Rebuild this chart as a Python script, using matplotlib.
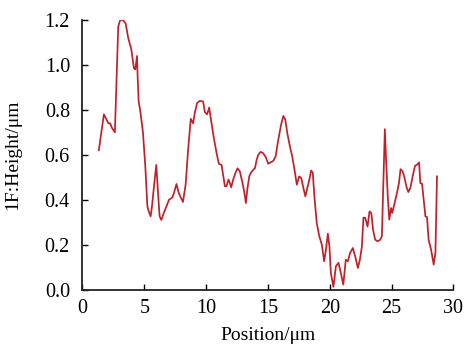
import matplotlib
matplotlib.use("Agg")
import matplotlib.pyplot as plt

# profile
position = [1.32, 1.73, 1.92, 2.10, 2.24, 2.38, 2.62, 2.89, 3.05, 3.27, 3.49, 3.70,
            3.95, 4.16, 4.27, 4.41, 4.46, 4.54, 4.70, 4.89, 5.08, 5.25, 5.35, 5.51,
            5.62, 5.84, 5.97, 6.11, 6.24, 6.38, 6.57, 6.79, 7.00, 7.27, 7.40, 7.60,
            7.79, 7.95, 8.13, 8.35, 8.54, 8.76, 8.95, 9.08, 9.27, 9.49, 9.76, 9.90,
            10.08, 10.25, 10.44, 10.65, 10.84, 11.03, 11.25, 11.38, 11.52, 11.65,
            11.81, 11.92, 12.03, 12.19, 12.38, 12.55, 12.73, 12.92, 13.08, 13.22,
            13.33, 13.49, 13.62, 13.81, 13.95, 14.09, 14.22, 14.41, 14.62, 14.84,
            15.03, 15.22, 15.43, 15.62, 15.84, 16.06, 16.25, 16.41, 16.57, 16.78,
            16.97, 17.13, 17.34, 17.53, 17.70, 17.87, 18.03, 18.19, 18.35, 18.49,
            18.63, 18.76, 18.95, 19.16, 19.36, 19.55, 19.71, 19.85, 19.98, 20.09,
            20.30, 20.50, 20.71, 20.90, 21.10, 21.30, 21.47, 21.65, 21.87, 22.06,
            22.28, 22.44, 22.60, 22.73, 22.87, 23.06, 23.22, 23.37, 23.50, 23.68,
            23.87, 24.09, 24.22, 24.35, 24.46, 24.57, 24.71, 24.82, 24.96, 25.06,
            25.22, 25.44, 25.60, 25.73, 25.90, 26.06, 26.20, 26.36, 26.52, 26.71,
            26.90, 27.07, 27.23, 27.33, 27.47, 27.60, 27.74, 27.87, 28.00, 28.20,
            28.41, 28.55, 28.68]
height = [0.62, 0.78, 0.76, 0.74, 0.74, 0.72, 0.70, 1.17, 1.20, 1.20, 1.185, 1.12,
          1.07, 0.985, 0.98, 1.04, 0.95, 0.84, 0.785, 0.70, 0.55, 0.37, 0.35, 0.326,
          0.37, 0.49, 0.555, 0.43, 0.326, 0.31, 0.34, 0.37, 0.40, 0.41, 0.43, 0.47,
          0.43, 0.41, 0.39, 0.47, 0.62, 0.76, 0.74, 0.785, 0.83, 0.84, 0.837, 0.79,
          0.78, 0.81, 0.74, 0.667, 0.61, 0.56, 0.555, 0.51, 0.46, 0.46,
          0.49, 0.475, 0.455, 0.49, 0.52, 0.54, 0.526, 0.48, 0.437, 0.385,
          0.444, 0.504, 0.52, 0.533, 0.54, 0.578, 0.60, 0.613, 0.607, 0.588,
          0.56, 0.566, 0.573, 0.592, 0.667, 0.733, 0.773, 0.756, 0.696, 0.637,
          0.592, 0.54, 0.467, 0.504, 0.496, 0.452, 0.415, 0.452, 0.489, 0.53,
          0.52, 0.415, 0.296, 0.237, 0.20, 0.126, 0.185, 0.249, 0.19, 0.074,
          0.012, 0.104, 0.119, 0.074, 0.022, 0.133, 0.126, 0.163, 0.185, 0.148,
          0.096, 0.133, 0.19, 0.32, 0.32, 0.28, 0.348, 0.34, 0.267, 0.222,
          0.215, 0.222, 0.237, 0.489, 0.714, 0.563, 0.40, 0.311, 0.363, 0.341,
          0.378, 0.43, 0.474, 0.536, 0.526, 0.496, 0.459, 0.434, 0.452, 0.504,
          0.551, 0.556, 0.566, 0.474, 0.471, 0.40, 0.326, 0.323, 0.222, 0.178,
          0.111, 0.163, 0.504]

x_ticks = [0, 5, 10, 15, 20, 25, 30]
y_ticks = [0.0, 0.2, 0.4, 0.6, 0.8, 1.0, 1.2]

plt.rcParams['font.family'] = 'serif'
plt.rcParams['font.serif'] = ['Liberation Serif', 'Times New Roman', 'DejaVu Serif']

fig = plt.figure(figsize=(4.65, 3.51), dpi=100)
ax = fig.add_axes([0.1774, 0.175, 0.7975, 0.768])

ax.plot(position, height, color='#c0202a', linewidth=1.25)

ax.set_xlim(0, 30)
ax.set_ylim(0, 1.2)
ax.set_xticks(x_ticks)
ax.set_yticks(y_ticks)
ax.set_yticklabels([f"{v:.1f}" for v in y_ticks])

for side in ['top', 'right']:
    ax.spines[side].set_visible(False)
for side in ['left', 'bottom']:
    ax.spines[side].set_linewidth(1.3)
    ax.spines[side].set_color('#222222')

ax.tick_params(direction='in', length=4, width=1.0, labelsize=14.5)
ax.tick_params(axis='y', pad=9)
ax.tick_params(axis='x', pad=7)
ax.set_xlabel('Position/μm', fontsize=14, labelpad=6)
ax.set_ylabel('1F:Height/μm', fontsize=14, labelpad=17)

fig.savefig('out.png', dpi=100)
